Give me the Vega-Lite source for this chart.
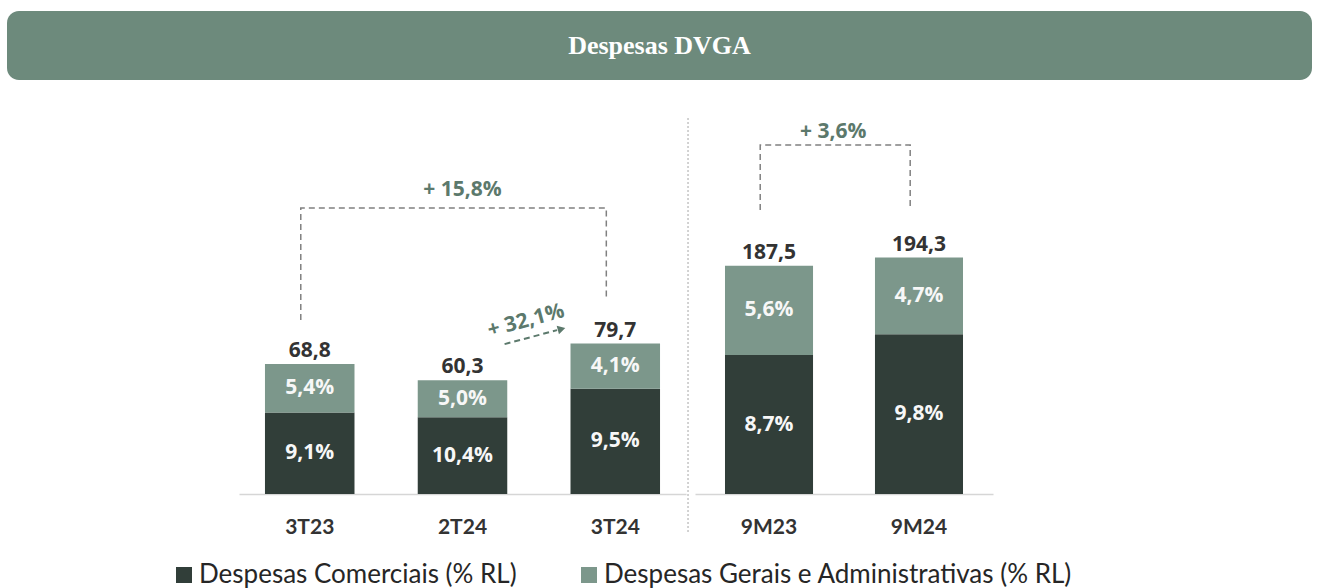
{
  "$schema": "https://vega.github.io/schema/vega-lite/v6.json",
  "padding": {"left": 7, "top": 11, "right": 5, "bottom": 5},
  "background": "white",
  "config": {
    "view": {"stroke": null},
    "font": "Open Sans",
    "axisX": {"labelAngle": 0, "ticks": false, "domainColor": "#d6d6d6", "domainWidth": 1.5, "labelFont": "Lato", "labelFontWeight": "bold", "labelFontSize": 21, "labelColor": "#333333", "labelPadding": 22, "grid": false}
  },
  "datasets": {
    "bars": [
      {"panel": "T", "cat": "3T23", "seg": "Despesas Comerciais (% RL)", "v": 43.2, "pct": "9,1%"},
      {"panel": "T", "cat": "3T23", "seg": "Despesas Gerais e Administrativas (% RL)", "v": 25.6, "pct": "5,4%"},
      {"panel": "T", "cat": "2T24", "seg": "Despesas Comerciais (% RL)", "v": 40.7, "pct": "10,4%"},
      {"panel": "T", "cat": "2T24", "seg": "Despesas Gerais e Administrativas (% RL)", "v": 19.6, "pct": "5,0%"},
      {"panel": "T", "cat": "3T24", "seg": "Despesas Comerciais (% RL)", "v": 55.7, "pct": "9,5%"},
      {"panel": "T", "cat": "3T24", "seg": "Despesas Gerais e Administrativas (% RL)", "v": 24.0, "pct": "4,1%"},
      {"panel": "M", "cat": "9M23", "seg": "Despesas Comerciais (% RL)", "v": 114.1, "pct": "8,7%"},
      {"panel": "M", "cat": "9M23", "seg": "Despesas Gerais e Administrativas (% RL)", "v": 73.4, "pct": "5,6%"},
      {"panel": "M", "cat": "9M24", "seg": "Despesas Comerciais (% RL)", "v": 131.3, "pct": "9,8%"},
      {"panel": "M", "cat": "9M24", "seg": "Despesas Gerais e Administrativas (% RL)", "v": 63.0, "pct": "4,7%"}
    ],
    "totals": [
      {"panel": "T", "cat": "3T23", "total": 68.8, "lbl": "68,8"},
      {"panel": "T", "cat": "2T24", "total": 60.3, "lbl": "60,3"},
      {"panel": "T", "cat": "3T24", "total": 79.7, "lbl": "79,7"},
      {"panel": "M", "cat": "9M23", "total": 187.5, "lbl": "187,5"},
      {"panel": "M", "cat": "9M24", "total": 194.3, "lbl": "194,3"}
    ],
    "brackets": [
      {"panel": "T", "cat": "3T23", "yb": 92.2, "o": 1},
      {"panel": "T", "cat": "3T23", "yb": 151.5, "o": 2},
      {"panel": "T", "cat": "3T24", "yb": 151.5, "o": 3},
      {"panel": "T", "cat": "3T24", "yb": 104.3, "o": 4},
      {"panel": "M", "cat": "9M23", "yb": 233.4, "o": 1},
      {"panel": "M", "cat": "9M23", "yb": 286.8, "o": 2},
      {"panel": "M", "cat": "9M24", "yb": 286.8, "o": 3},
      {"panel": "M", "cat": "9M24", "yb": 236.6, "o": 4}
    ],
    "growth": [
      {"panel": "T", "cat": "2T24", "yg": 161, "lbl": "+ 15,8%"},
      {"panel": "M", "cat": "9M23", "yg": 297.5, "lbl": "+ 3,6%"}
    ],
    "arrow": [
      {"c1": "2T24", "c2": "3T24", "y1": 79.4, "y2": 86.8, "ya": 87.4, "yt": 91.6, "lbl": "+ 32,1%"}
    ],
    "sep": [
      {"cat": "9M23", "top": 309, "bot": -32}
    ]
  },
  "spacing": 20,
  "vconcat": [
    {
      "width": 1305,
      "height": 69,
      "view": {"fill": "#6d8a7c", "cornerRadius": 12, "stroke": null},
      "data": {"values": [{"t": "Despesas DVGA"}]},
      "mark": {"type": "text", "font": "Liberation Serif", "fontWeight": "bold", "fontSize": 26, "color": "#ffffff", "align": "center", "baseline": "middle"},
      "encoding": {"text": {"field": "t"}}
    },
    {
      "spacing": 1,
      "hconcat": [
        {
          "width": 231,
          "height": 394,
          "data": {"values": []},
          "mark": "rect",
          "encoding": {}
        },
        {
          "width": 447,
          "height": 394,
          "layer": [
            {
              "data": {"name": "bars"},
              "transform": [{"filter": {"field": "panel", "equal": "T"}}],
              "mark": {"type": "bar"},
              "encoding": {
                "x": {"field": "cat", "type": "nominal", "title": null,
                  "scale": {"domain": ["3T23", "2T24", "3T24"], "paddingInner": 0.414, "paddingOuter": 0.17}},
                "y": {"field": "v", "type": "quantitative", "stack": "zero", "scale": {"domain": [0, 208.7], "nice": false}, "axis": null},
                "color": {"field": "seg", "type": "nominal",
                  "scale": {"domain": ["Despesas Comerciais (% RL)", "Despesas Gerais e Administrativas (% RL)"], "range": ["#313e39", "#7c978b"]},
                  "legend": {"title": null, "orient": "none", "legendX": 164, "legendY": 551, "direction": "horizontal", "symbolType": "square", "symbolSize": 256, "symbolStrokeWidth": 0, "labelFont": "Lato", "labelFontSize": 26, "labelColor": "#262626", "labelOffset": 2, "columnPadding": 59, "padding": 0, "labelLimit": 0}},
                "order": {"field": "seg", "sort": "ascending"}
              }
            },
            {
              "data": {"name": "bars"},
              "transform": [
                {"filter": {"field": "panel", "equal": "T"}},
                {"stack": "v", "groupby": ["cat"], "sort": [{"field": "seg", "order": "ascending"}], "as": ["v0", "v1"]},
                {"fold": ["v0", "v1"], "as": ["k", "edge"]},
                {"aggregate": [{"op": "mean", "field": "edge", "as": "mid"}], "groupby": ["cat", "seg", "pct"]}
              ],
              "mark": {"type": "text", "font": "Open Sans", "fontWeight": "bold", "fontSize": 21, "color": "#f7f7f7", "align": "center", "baseline": "middle"},
              "encoding": {
                "x": {"field": "cat", "type": "nominal", "title": null, "scale": {"domain": ["3T23", "2T24", "3T24"]}},
                "y": {"field": "mid", "type": "quantitative", "stack": null, "scale": {"domain": [0, 208.7], "nice": false}, "axis": null},
                "text": {"field": "pct"}
              }
            },
            {
              "data": {"name": "totals"},
              "transform": [{"filter": {"field": "panel", "equal": "T"}}],
              "mark": {"type": "text", "font": "Open Sans", "fontWeight": "bold", "fontSize": 21, "color": "#333333", "align": "center", "baseline": "alphabetic", "dy": -7},
              "encoding": {
                "x": {"field": "cat", "type": "nominal", "title": null, "scale": {"domain": ["3T23", "2T24", "3T24"]}},
                "y": {"field": "total", "type": "quantitative", "scale": {"domain": [0, 208.7], "nice": false}, "axis": null},
                "text": {"field": "lbl"}
              }
            },
            {
              "data": {"name": "brackets"},
              "transform": [{"filter": {"field": "panel", "equal": "T"}}],
              "mark": {"type": "line", "color": "#808080", "strokeWidth": 1.5, "strokeDash": [6, 4]},
              "encoding": {
                "x": {"field": "cat", "type": "nominal", "title": null, "bandPosition": 0.4, "scale": {"domain": ["3T23", "2T24", "3T24"]}},
                "y": {"field": "yb", "type": "quantitative", "scale": {"domain": [0, 208.7], "nice": false}, "axis": null},
                "order": {"field": "o"}
              }
            },
            {
              "data": {"name": "growth"},
              "transform": [{"filter": {"field": "panel", "equal": "T"}}],
              "mark": {"type": "text", "font": "Open Sans", "fontWeight": "bold", "fontSize": 21, "color": "#5c796c", "align": "center", "baseline": "middle"},
              "encoding": {
                "x": {"field": "cat", "type": "nominal", "title": null, "scale": {"domain": ["3T23", "2T24", "3T24"]}},
                "y": {"field": "yg", "type": "quantitative", "scale": {"domain": [0, 208.7], "nice": false}, "axis": null},
                "text": {"field": "lbl"}
              }
            },
            {
              "data": {"name": "arrow"},
              "mark": {"type": "rule", "color": "#5c796c", "strokeWidth": 2, "strokeDash": [6, 4]},
              "encoding": {
                "x": {"field": "c1", "type": "nominal", "title": null, "bandPosition": 0.97, "scale": {"domain": ["3T23", "2T24", "3T24"]}},
                "x2": {"field": "c2", "bandPosition": -0.15},
                "y": {"field": "y1", "type": "quantitative", "scale": {"domain": [0, 208.7], "nice": false}, "axis": null},
                "y2": {"field": "y2"}
              }
            },
            {
              "data": {"name": "arrow"},
              "mark": {"type": "point", "shape": "triangle-right", "filled": true, "size": 80, "angle": -15, "color": "#5c796c", "opacity": 1},
              "encoding": {
                "x": {"field": "c2", "type": "nominal", "title": null, "bandPosition": -0.1, "scale": {"domain": ["3T23", "2T24", "3T24"]}},
                "y": {"field": "ya", "type": "quantitative", "scale": {"domain": [0, 208.7], "nice": false}, "axis": null}
              }
            },
            {
              "data": {"name": "arrow"},
              "mark": {"type": "text", "font": "Open Sans", "fontWeight": "bold", "fontSize": 21, "color": "#5c796c", "align": "center", "baseline": "middle", "angle": -15},
              "encoding": {
                "x": {"field": "c1", "type": "nominal", "title": null, "bandPosition": 1.21, "scale": {"domain": ["3T23", "2T24", "3T24"]}},
                "y": {"field": "yt", "type": "quantitative", "scale": {"domain": [0, 208.7], "nice": false}, "axis": null},
                "text": {"field": "lbl"}
              }
            }
          ]
        },
        {
          "width": 298,
          "height": 394,
          "layer": [
            {
              "data": {"name": "bars"},
              "transform": [{"filter": {"field": "panel", "equal": "M"}}],
              "mark": {"type": "bar"},
              "encoding": {
                "x": {"field": "cat", "type": "nominal", "title": null,
                  "scale": {"domain": ["9M23", "9M24"], "paddingInner": 0.413, "paddingOuter": 0.2}},
                "y": {"field": "v", "type": "quantitative", "stack": "zero", "scale": {"domain": [0, 323.7], "nice": false}, "axis": null},
                "color": {"field": "seg", "type": "nominal",
                  "scale": {"domain": ["Despesas Comerciais (% RL)", "Despesas Gerais e Administrativas (% RL)"], "range": ["#313e39", "#7c978b"]}},
                "order": {"field": "seg", "sort": "ascending"}
              }
            },
            {
              "data": {"name": "bars"},
              "transform": [
                {"filter": {"field": "panel", "equal": "M"}},
                {"stack": "v", "groupby": ["cat"], "sort": [{"field": "seg", "order": "ascending"}], "as": ["v0", "v1"]},
                {"fold": ["v0", "v1"], "as": ["k", "edge"]},
                {"aggregate": [{"op": "mean", "field": "edge", "as": "mid"}], "groupby": ["cat", "seg", "pct"]}
              ],
              "mark": {"type": "text", "font": "Open Sans", "fontWeight": "bold", "fontSize": 21, "color": "#f7f7f7", "align": "center", "baseline": "middle"},
              "encoding": {
                "x": {"field": "cat", "type": "nominal", "title": null, "scale": {"domain": ["9M23", "9M24"]}},
                "y": {"field": "mid", "type": "quantitative", "stack": null, "scale": {"domain": [0, 323.7], "nice": false}, "axis": null},
                "text": {"field": "pct"}
              }
            },
            {
              "data": {"name": "totals"},
              "transform": [{"filter": {"field": "panel", "equal": "M"}}],
              "mark": {"type": "text", "font": "Open Sans", "fontWeight": "bold", "fontSize": 21, "color": "#333333", "align": "center", "baseline": "alphabetic", "dy": -7},
              "encoding": {
                "x": {"field": "cat", "type": "nominal", "title": null, "scale": {"domain": ["9M23", "9M24"]}},
                "y": {"field": "total", "type": "quantitative", "scale": {"domain": [0, 323.7], "nice": false}, "axis": null},
                "text": {"field": "lbl"}
              }
            },
            {
              "data": {"name": "brackets"},
              "transform": [{"filter": {"field": "panel", "equal": "M"}}],
              "mark": {"type": "line", "color": "#808080", "strokeWidth": 1.5, "strokeDash": [6, 4]},
              "encoding": {
                "x": {"field": "cat", "type": "nominal", "title": null, "bandPosition": 0.4, "scale": {"domain": ["9M23", "9M24"]}},
                "y": {"field": "yb", "type": "quantitative", "scale": {"domain": [0, 323.7], "nice": false}, "axis": null},
                "order": {"field": "o"}
              }
            },
            {
              "data": {"name": "growth"},
              "transform": [{"filter": {"field": "panel", "equal": "M"}}],
              "mark": {"type": "text", "font": "Open Sans", "fontWeight": "bold", "fontSize": 21, "color": "#5c796c", "align": "center", "baseline": "middle"},
              "encoding": {
                "x": {"field": "cat", "type": "nominal", "title": null, "bandPosition": 1.23, "scale": {"domain": ["9M23", "9M24"]}},
                "y": {"field": "yg", "type": "quantitative", "scale": {"domain": [0, 323.7], "nice": false}, "axis": null},
                "text": {"field": "lbl"}
              }
            },
            {
              "data": {"name": "sep"},
              "mark": {"type": "rule", "color": "#b5b5b5", "strokeWidth": 1.2, "strokeDash": [2, 2]},
              "encoding": {
                "x": {"field": "cat", "type": "nominal", "title": null, "bandPosition": -0.42, "scale": {"domain": ["9M23", "9M24"]}},
                "y": {"field": "top", "type": "quantitative", "scale": {"domain": [0, 323.7], "nice": false}, "axis": null},
                "y2": {"field": "bot"}
              }
            }
          ]
        }
      ]
    }
  ]
}
